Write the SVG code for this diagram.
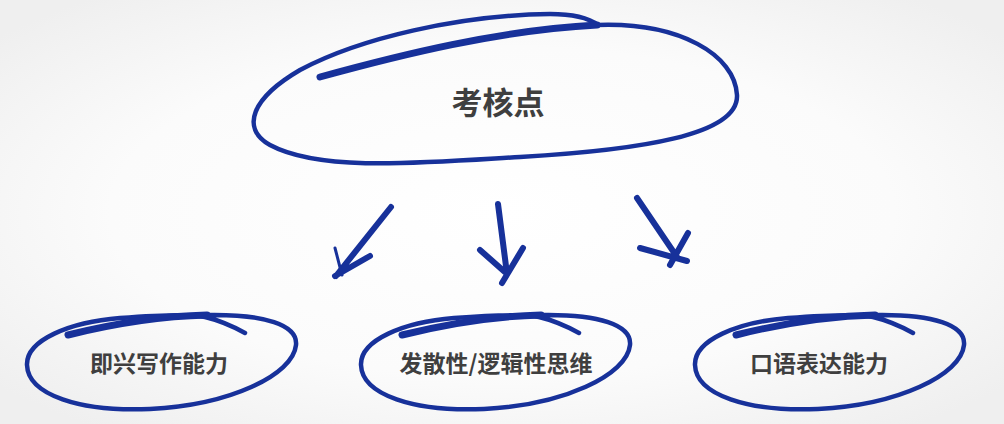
<svg xmlns="http://www.w3.org/2000/svg" xmlns:xlink="http://www.w3.org/1999/xlink" width="1004" height="424" viewBox="0 0 1004 424">
<defs>
<radialGradient id="bg" cx="50%" cy="50%" r="65%">
<stop offset="0" stop-color="#ffffff"/>
<stop offset="0.6" stop-color="#fbfbfb"/>
<stop offset="1" stop-color="#efefef"/>
</radialGradient>
<path id="oval" d="M68,335 C 120,322 165,316 207,315 C 265,314 298,325 296,345 C 293,375 230,405 150,409 C 80,412 28,395 27,365 C 26,340 70,322 120,318 C 160,315 192,314 205,317 C 222,321 236,328 245,333"/>
<path id="ovalStart" d="M68,335 C 120,322 165,316 207,315"/>
</defs>
<style>
.ink{fill:none;stroke:#17319a;stroke-linecap:round;stroke-linejoin:round}
.thin{stroke-width:4.5}
.thick{stroke-width:7}
.arr{stroke-width:6}
.lbl{font-family:"Noto Sans CJK SC","Noto Sans",sans-serif;font-weight:700;fill:#3f3f3f;text-anchor:middle;dominant-baseline:central}
</style>
<rect width="1004" height="424" fill="url(#bg)"/>
<g id="top">
<path class="ink thin" d="M320,77 C 400,55 500,30 597,25 C 680,22 735,55 737,95 C 739,135 640,150 520,157 C 420,163 320,172 270,145 C 240,128 252,98 300,70 C 360,38 460,15 550,14 C 575,14 590,19 598,25"/>
<path class="ink thick" d="M320,77 C 400,55 500,30 597,25"/>
<text class="lbl" x="498" y="100" font-size="31">考核点</text>
</g>
<g id="connectors">
<path class="ink arr" d="M391,207 L336,276 M370,256 L335,276" />
<path class="ink" stroke-width="3" d="M335,248 L342,275"/>
<path class="ink arr" d="M498,204 L507,274 M480,250 L506,273 M523,248 L502,283"/>
<path class="ink arr" d="M637,198 L677,257 M640,248 L687,261 M688,233 L670,265"/>
</g>
<g id="n1">
<use href="#oval" class="ink thin"/>
<use href="#ovalStart" class="ink thick"/>
<text class="lbl" x="159" y="362" font-size="23">即兴写作能力</text>
</g>
<g id="n2">
<g transform="translate(334,0)">
<use href="#oval" class="ink thin"/>
<use href="#ovalStart" class="ink thick"/>
</g>
<text class="lbl" x="496" y="362" font-size="23">发散性/逻辑性思维</text>
</g>
<g id="n3">
<g transform="translate(668,0)">
<use href="#oval" class="ink thin"/>
<use href="#ovalStart" class="ink thick"/>
</g>
<text class="lbl" x="819" y="362" font-size="23">口语表达能力</text>
</g>
</svg>
